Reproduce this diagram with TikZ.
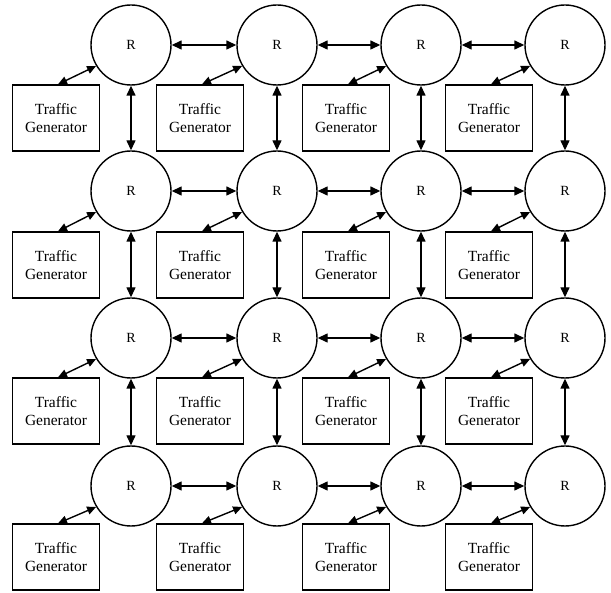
\documentclass[tikz,border=0pt]{standalone}
\usepackage{fontspec}
\setmainfont{Liberation Serif}
\usetikzlibrary{arrows.meta}
\begin{document}
\begin{tikzpicture}[x=1pt,y=-1pt,
  router/.style={draw,line width=1.4pt,circle,minimum size=80pt,inner sep=0pt,font=\fontsize{14}{16}\selectfont},
  tgbox/.style={draw,line width=1.4pt,rectangle,minimum width=87pt,minimum height=66pt,inner sep=0pt,align=center,font=\fontsize{15.5}{18}\selectfont},
  link/.style={line width=1.4pt,{Triangle[length=10pt,width=9pt]}-{Triangle[length=10pt,width=9pt]}},
  tlink/.style={line width=1.4pt,{Triangle[length=9pt,width=8pt]}-{Triangle[length=9pt,width=8pt]}}]
\useasboundingbox (0,0) rectangle (611,593);
\foreach \r/\ry/\by in {1/45/118, 2/191/265, 3/338/411, 4/486/557}{
  \foreach \c/\cx/\bx in {1/131/56, 2/277/200, 3/421/346, 4/565/489}{
    \node[router] (r\r\c) at (\cx,\ry) {R};
    \node[tgbox] (t\r\c) at (\bx,\by) {Traffic\\Generator};
    \draw[tlink] ([xshift=2pt]t\r\c.north) -- (r\r\c.211);
  }
}
\foreach \r in {1,2,3,4}{
  \draw[link] (r\r1) -- (r\r2);
  \draw[link] (r\r2) -- (r\r3);
  \draw[link] (r\r3) -- (r\r4);
}
\foreach \c in {1,2,3,4}{
  \draw[link] (r1\c) -- (r2\c);
  \draw[link] (r2\c) -- (r3\c);
  \draw[link] (r3\c) -- (r4\c);
}
\end{tikzpicture}
\end{document}
